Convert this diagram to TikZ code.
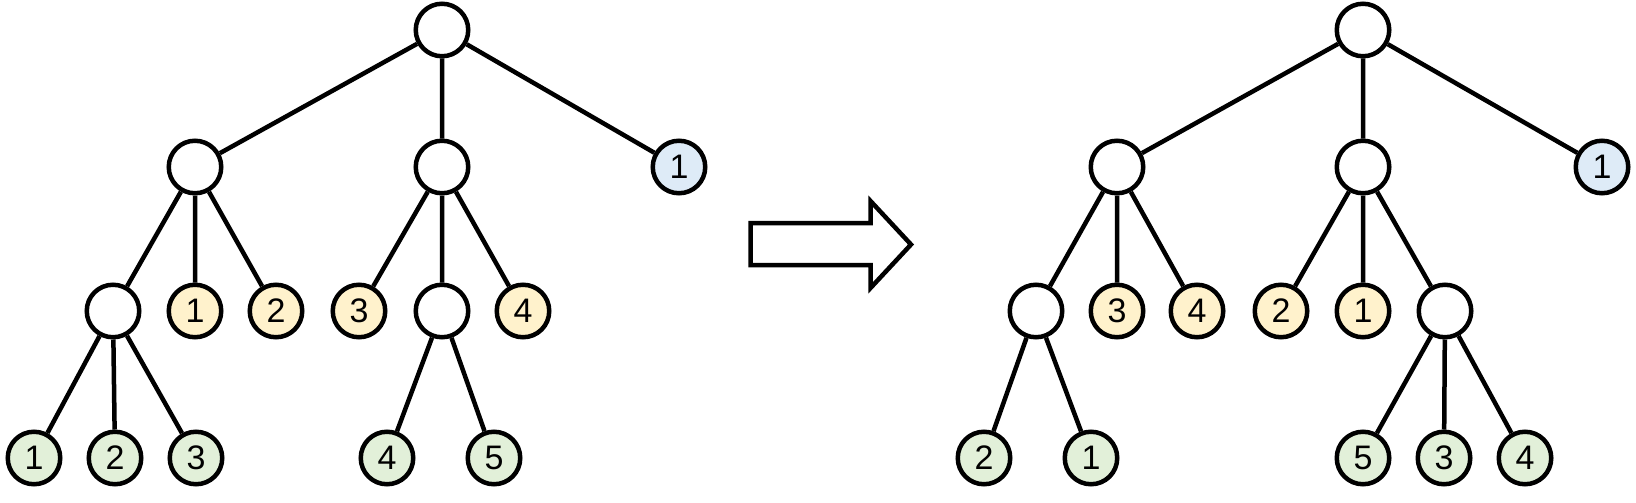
\documentclass[tikz,border=0pt]{standalone}
\usepackage{fontspec}
\setmainfont{Liberation Sans}
\definecolor{leafgreen}{HTML}{E2F0D9}
\definecolor{leafyellow}{HTML}{FFF2CC}
\definecolor{leafblue}{HTML}{DEEBF7}

\begin{document}
\begin{tikzpicture}[x=1pt,y=-1pt,
    blank/.style={circle,draw=black,line width=4.5pt,fill=white,minimum size=52.5pt,inner sep=0pt,font=\fontsize{34}{34}\selectfont},
    leafg/.style={blank,fill=leafgreen},
    leafy/.style={blank,fill=leafyellow},
    leafb/.style={blank,fill=leafblue},
    edge/.style={line width=4.5pt,black}]
    \useasboundingbox (0,0) rectangle (1636,503);

    \node[blank] (L) at (442,30) {};
    \node[blank] (LA) at (195,167) {};
    \node[blank] (LB) at (442,167) {};
    \node[leafb] (LC) at (679,167) {1};
    \node[blank] (LAA) at (113,311) {};
    \node[leafy] (LA1) at (195,311) {1};
    \node[leafy] (LA2) at (276,311) {2};
    \node[leafy] (LB3) at (359,311) {3};
    \node[blank] (LBB) at (442,311) {};
    \node[leafy] (LB4) at (523,311) {4};
    \node[leafg] (LAA1) at (34,458) {1};
    \node[leafg] (LAA2) at (115,458) {2};
    \node[leafg] (LAA3) at (196,458) {3};
    \node[leafg] (LBB4) at (387,458) {4};
    \node[leafg] (LBB5) at (494,458) {5};
    \draw[edge] (L) -- (LA) (L) -- (LB) (L) -- (LC)
        (LA) -- (LAA) (LA) -- (LA1) (LA) -- (LA2)
        (LB) -- (LB3) (LB) -- (LBB) (LB) -- (LB4)
        (LAA) -- (LAA1) (LAA) -- (LAA2) (LAA) -- (LAA3)
        (LBB) -- (LBB4) (LBB) -- (LBB5);

    \draw[line width=4.5pt,line join=miter,fill=white]
        (750.5,223) -- (870.5,223) -- (870.5,201) -- (911,244.5) -- (870.5,288) -- (870.5,265) -- (750.5,265) -- cycle;

    \node[blank] (R) at (1363,30) {};
    \node[blank] (RA) at (1117,167) {};
    \node[blank] (RB) at (1363,167) {};
    \node[leafb] (RC) at (1602,167) {1};
    \node[blank] (RAA) at (1036,311) {};
    \node[leafy] (RA3) at (1117,311) {3};
    \node[leafy] (RA4) at (1197,311) {4};
    \node[leafy] (RB2) at (1281,311) {2};
    \node[leafy] (RB1) at (1363,311) {1};
    \node[blank] (RBB) at (1445,311) {};
    \node[leafg] (RAA2) at (984,458) {2};
    \node[leafg] (RAA1) at (1091,458) {1};
    \node[leafg] (RBB5) at (1363,458) {5};
    \node[leafg] (RBB3) at (1444,458) {3};
    \node[leafg] (RBB4) at (1525,458) {4};
    \draw[edge] (R) -- (RA) (R) -- (RB) (R) -- (RC)
        (RA) -- (RAA) (RA) -- (RA3) (RA) -- (RA4)
        (RB) -- (RB2) (RB) -- (RB1) (RB) -- (RBB)
        (RAA) -- (RAA2) (RAA) -- (RAA1)
        (RBB) -- (RBB5) (RBB) -- (RBB3) (RBB) -- (RBB4);
\end{tikzpicture}
\end{document}
